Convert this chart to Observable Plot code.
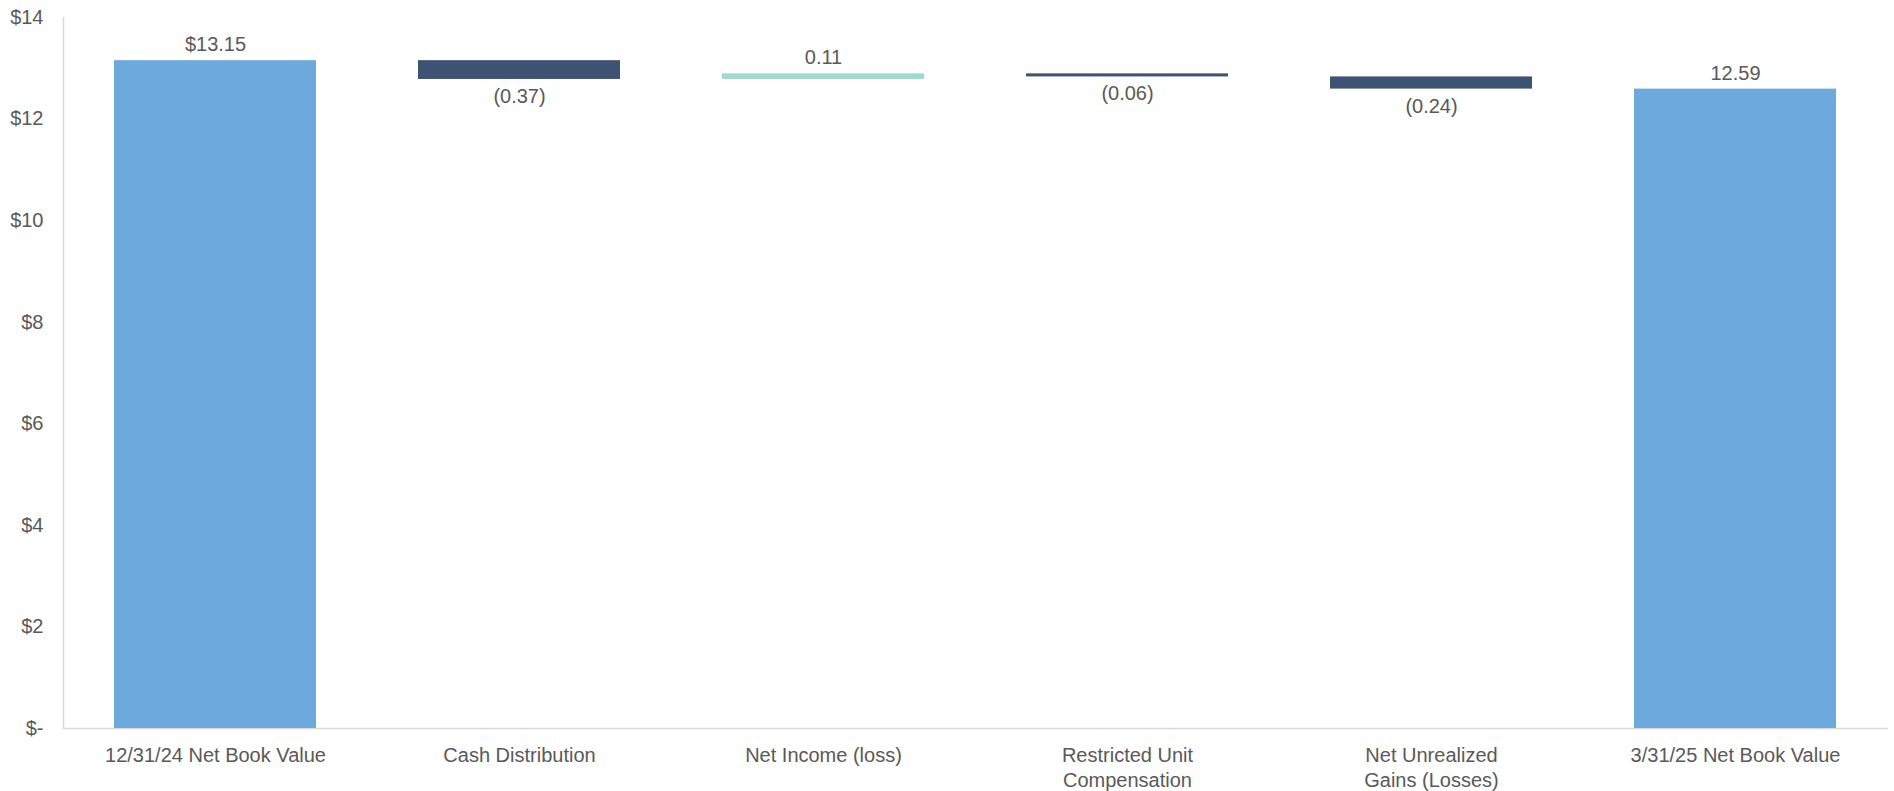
<!DOCTYPE html>
<html>
<head>
<meta charset="utf-8">
<script src="https://cdn.jsdelivr.net/npm/d3@7"></script>
<script src="https://cdn.jsdelivr.net/npm/@observablehq/plot@0.6"></script>
<style>
  html, body { margin: 0; padding: 0; background: #ffffff; }
  #chart { width: 1894px; height: 791px; }
</style>
</head>
<body>
<div id="chart"></div>
<script>
// ---- Data ----
const categories = [
  "12/31/24 Net Book Value",
  "Cash Distribution",
  "Net Income (loss)",
  "Restricted Unit\nCompensation",
  "Net Unrealized\nGains (Losses)",
  "3/31/25 Net Book Value"
];
const values = [13.15, -0.37, 0.11, -0.06, -0.24, 12.59];
const kinds = ["total", "delta", "delta", "delta", "delta", "total"];
const yTicks = [0, 2, 4, 6, 8, 10, 12, 14];

// ---- Build waterfall rows ----
let running = 0;
const rows = categories.map((c, i) => {
  const v = values[i];
  let y1, y2;
  if (kinds[i] === "total") {
    y1 = 0; y2 = v; running = v;
  } else {
    y1 = running; y2 = running + v; running = y2;
  }
  const top = Math.max(y1, y2), bottom = Math.min(y1, y2);
  const type = kinds[i] === "total" ? "total" : (v < 0 ? "neg" : "pos");
  let label;
  if (i === 0) label = "$" + v.toFixed(2);
  else if (v < 0) label = "(" + Math.abs(v).toFixed(2) + ")";
  else label = v.toFixed(2);
  return {category: c, y1, y2, top, bottom, type, label};
});

const colorOf = {total: "#6CAADE", neg: "#3E5274", pos: "#A2D9CE"};
const textColor = "#595959";
const lineColor = "#D9D9D9";

const chart = Plot.plot({
  width: 1894,
  height: 791,
  marginLeft: 63,
  marginRight: 7,
  marginTop: 17,
  marginBottom: 63,
  style: {fontFamily: "'Liberation Sans', Arial, sans-serif", fontSize: "20px", color: textColor, background: "#ffffff"},
  x: {domain: categories, paddingInner: 0.335, paddingOuter: 0.1675, label: null},
  y: {domain: [0, 14], label: null},
  marks: [
    Plot.frame({anchor: "left", stroke: lineColor, strokeWidth: 1.5}),
    Plot.frame({anchor: "bottom", stroke: lineColor, strokeWidth: 1.5}),
    Plot.barY(rows, {x: "category", y1: "y1", y2: "y2", fill: d => colorOf[d.type]}),
    Plot.text(rows.filter(d => d.type !== "neg"), {
      x: "category", y: "top", text: "label", dy: -16,
      fill: textColor, fontSize: 20, lineAnchor: "middle"
    }),
    Plot.text(rows.filter(d => d.type === "neg"), {
      x: "category", y: "bottom", text: "label", dy: 17,
      fill: textColor, fontSize: 20, lineAnchor: "middle"
    }),
    Plot.axisY({
      ticks: yTicks, tickSize: 0, tickPadding: 20,
      tickFormat: d => d === 0 ? "$-" : "$" + d,
      fill: textColor, fontSize: 20, label: null
    }),
    Plot.axisX({
      tickSize: 0, tickPadding: 16, lineHeight: 1.25,
      fill: textColor, fontSize: 20, label: null
    })
  ]
});
document.getElementById("chart").appendChild(chart);
</script>
</body>
</html>
